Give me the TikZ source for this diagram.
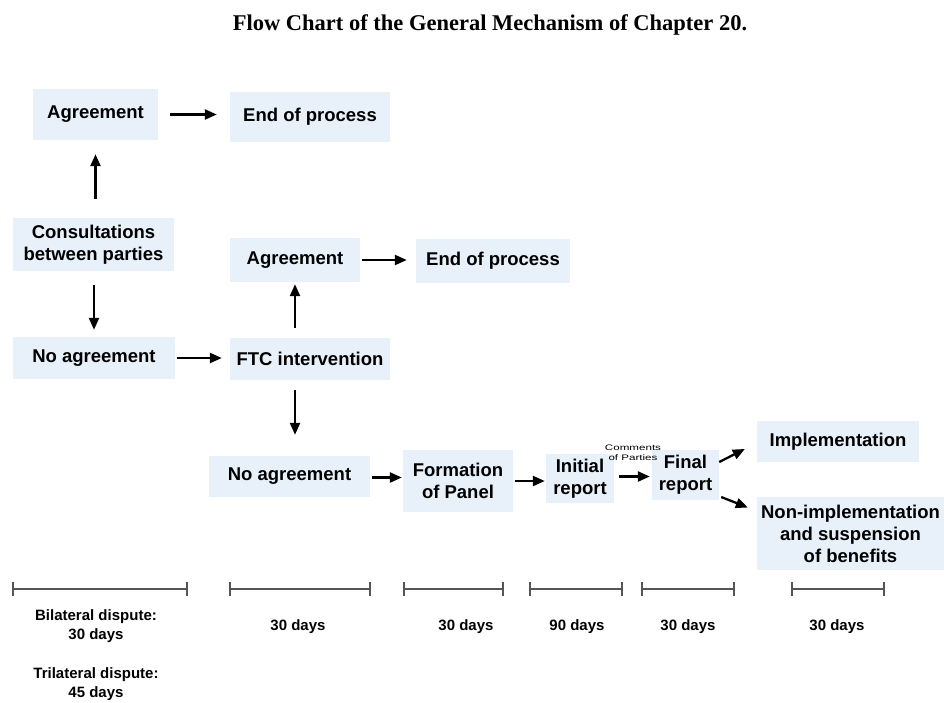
\documentclass[tikz,border=0pt]{standalone}
\usepackage{fontspec}
\setmainfont{Liberation Sans}
\newfontfamily\titlefont{Liberation Serif}
\usetikzlibrary{arrows.meta,calc}
\definecolor{boxfill}{RGB}{232,241,250}
\definecolor{bargray}{RGB}{85,85,85}
\tikzset{
  stepbox/.style={fill=boxfill, draw=none, inner sep=0pt, align=center,
    font=\fontsize{18.5}{22}\selectfont\bfseries},
  flow/.style={-{Triangle[length=12pt,width=10pt]}, line width=2.3pt, black},
  tl/.style={line width=2.8pt, bargray},
  tick/.style={line width=1.4pt, bargray},
  tltext/.style={font=\fontsize{15}{19}\selectfont\bfseries, align=center, inner sep=0pt},
}
\begin{document}
\begin{tikzpicture}[x=1pt,y=-1pt]
\useasboundingbox (0,0) rectangle (944,702);
\node[font=\titlefont\fontsize{22.5}{26}\selectfont\bfseries] (title) at (490,25) {Flow Chart of the General Mechanism of Chapter 20.};

\node[stepbox, minimum width=125pt, minimum height=51pt] (ag1) at (95.5,114.5) {Agreement};
\node[stepbox, minimum width=160pt, minimum height=50pt] (end1) at (310,117) {End of process};
\node[stepbox, minimum width=161pt, minimum height=53pt] (cons) at (93.5,244.5) {Consultations\\between parties};
\node[stepbox, minimum width=162pt, minimum height=42pt] (noag1) at (94,358) {No agreement};
\node[stepbox, minimum width=160pt, minimum height=42pt] (ftc) at (310,359) {FTC intervention};
\node[stepbox, minimum width=130pt, minimum height=44pt] (ag2) at (295,260) {Agreement};
\node[stepbox, minimum width=154pt, minimum height=44pt] (end2) at (493,261) {End of process};
\node[stepbox, minimum width=161pt, minimum height=41pt] (noag2) at (289.5,476.5) {No agreement};
\node[stepbox, minimum width=110pt, minimum height=62pt] (panel) at (458,481) {Formation\\of Panel};
\node[stepbox, minimum width=68pt, minimum height=49pt] (init) at (580,478.5) {Initial\\report};
\node[stepbox, minimum width=67pt, minimum height=50pt] (final) at (685.5,475) {Final\\report};
\node[stepbox, minimum width=162pt, minimum height=41pt] (impl) at (838,441.5) {Implementation};
\node[stepbox, minimum width=187pt, minimum height=73pt] (nonimpl) at (850.5,533.5) {Non-implementation\\and suspension\\of benefits};

% connectors
\draw[flow, shorten <=12pt, shorten >=13pt] (ag1.east) -- (ag1.east -| end1.west);
\draw[flow, shorten <=19pt, shorten >=14pt] (cons.north -| ag1.south) -- (ag1.south);
\draw[flow, shorten <=14pt, shorten >=7pt] (cons.south -| noag1.north) -- (noag1.north);
\draw[flow, shorten <=2pt, shorten >=8pt] (noag1.east) -- (noag1.east -| ftc.west);
\draw[flow, shorten <=10pt, shorten >=2pt] (ftc.north -| ag2.south) -- (ag2.south);
\draw[flow, shorten <=2pt, shorten >=9pt] (ag2.east) -- (ag2.east -| end2.west);
\draw[flow, shorten <=10pt, shorten >=21pt] (ftc.south -| ag2.south) -- (ag2.south |- noag2.north);
\coordinate (a1) at ($(noag2.east)+(0,1)$);
\draw[flow, shorten <=2pt, shorten >=1pt] (a1) -- (a1 -| panel.west);
\draw[flow, shorten <=2pt, shorten >=1pt] (panel.east) -- (panel.east -| init.west);
\coordinate (a2) at ($(init.east)+(0,-2)$);
\draw[flow, shorten <=5pt, shorten >=2pt] (a2) -- (a2 -| final.west)
  node[midway, above=15pt, font=\fontsize{8}{10}\selectfont, align=center, inner sep=0pt] (cmt)
  {\scalebox{1.45}[1]{Comments}\\\scalebox{1.45}[1]{of Parties}};
\draw[flow] ($(final.east)+(0,-13)$) -- ($(impl.west)+(-12,7.5)$);
\draw[flow] ($(final.east)+(2,22)$) -- ($(nonimpl.west)+(-9,-26)$);

% timeline
\coordinate (t1a) at (13,589); \coordinate (t1b) at (187,589);
\coordinate (t2a) at (230,589); \coordinate (t2b) at (370,589);
\coordinate (t3a) at (404,589); \coordinate (t3b) at (503,589);
\coordinate (t4a) at (530,589); \coordinate (t4b) at (622,589);
\coordinate (t5a) at (642,589); \coordinate (t5b) at (734,589);
\coordinate (t6a) at (792,589); \coordinate (t6b) at (884,589);
\foreach \s in {1,...,6}{
  \draw[tl] (t\s a) -- (t\s b);
  \draw[tick] ($(t\s a)+(0,-7)$) -- ($(t\s a)+(0,7)$);
  \draw[tick] ($(t\s b)+(0,-7)$) -- ($(t\s b)+(0,7)$);
}
\node[tltext] (bil) at (96,626) {Bilateral dispute:\\30 days};
\node[tltext] (tri) at (96,684) {Trilateral dispute:\\45 days};
\node[tltext] (d2) at (298,627) {30 days};
\node[tltext] (d3) at (466,627) {30 days};
\node[tltext] (d4) at (577,627) {90 days};
\node[tltext] (d5) at (688,627) {30 days};
\node[tltext] (d6) at (837,627) {30 days};
\end{tikzpicture}
\end{document}
